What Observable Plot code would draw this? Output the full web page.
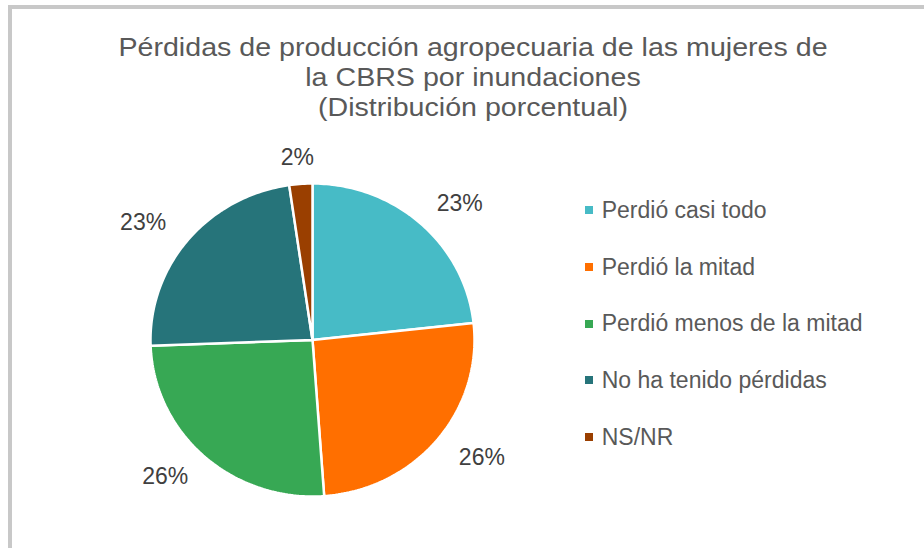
<!DOCTYPE html>
<html>
<head>
<meta charset="utf-8">
<script src="https://cdn.jsdelivr.net/npm/d3@7"></script>
<script src="https://cdn.jsdelivr.net/npm/@observablehq/plot@0.6"></script>
<style>
  html, body { margin: 0; padding: 0; background: #fff; overflow: hidden; }
  body { width: 924px; height: 548px; position: relative; font-family: "Liberation Sans", Arial, sans-serif; }
  #frame { position: absolute; left: 8px; top: 5px; width: 1000px; height: 700px;
           border-left: 4px solid #c8c8c8; border-top: 4px solid #c8c8c8; box-sizing: border-box; }
  #title { position: absolute; left: 100px; top: 32px; width: 746px; text-align: center;
           font-size: 26px; color: #595959; transform: scaleX(1.1); transform-origin: 50% 0; }
  #title div { height: 30px; line-height: 30px; white-space: nowrap; }
  #chart { position: absolute; left: 0; top: 140px; }
  #legend { position: absolute; left: 585px; top: 182px; }
  .item { height: 56.7px; display: flex; align-items: center; font-size: 23px; color: #595959; white-space: nowrap; }
  .sw { width: 8px; height: 8px; margin-right: 8.7px; flex: none; }
</style>
</head>
<body>
<div id="frame"></div>
<div id="title"></div>
<div id="chart"></div>
<div id="legend"></div>
<script>
const titleLines = ["Pérdidas de producción agropecuaria de las mujeres de", "la CBRS por inundaciones", "(Distribución porcentual)"];
const categories = ["Perdió casi todo", "Perdió la mitad", "Perdió menos de la mitad", "No ha tenido pérdidas", "NS/NR"];
const values = [23.3, 25.6, 25.6, 23.3, 2.3];
const valueLabels = ["23%", "26%", "26%", "23%", "2%"];
const colors = ["#47BBC6", "#FF6F00", "#37A854", "#26747A", "#9A3F00"];

const W = 570, H = 408;
const mL = 150, mR = 96, mT = 43, mB = 52;
const Rx = (W - mL - mR) / 2, Ry = (H - mT - mB) / 2;
const labelFont = 23;

const arcs = d3.pie().sort(null).value(d => d)(values);

// slice outlines in data space (unit circle, clockwise from 12 o'clock)
const slicePts = [];
arcs.forEach((a, i) => {
  slicePts.push({cat: categories[i], x: 0, y: 0});
  const n = Math.max(2, Math.ceil((a.endAngle - a.startAngle) / (Math.PI / 180)));
  for (let k = 0; k <= n; k++) {
    const t = a.startAngle + (a.endAngle - a.startAngle) * k / n;
    slicePts.push({cat: categories[i], x: Math.sin(t), y: Math.cos(t)});
  }
});

// label positions outside the pie
const ctx = document.createElement("canvas").getContext("2d");
ctx.font = `${labelFont}px "Liberation Sans", Arial`;
const labelData = arcs.map((a, i) => {
  const m = (a.startAngle + a.endAngle) / 2;
  const s = Math.sin(m), c = Math.cos(m);
  const hw = ctx.measureText(valueLabels[i]).width / 2;
  const hh = 8;
  const r0 = 1.12;
  return {
    text: valueLabels[i],
    x: r0 * s + 1.7 * hw / Rx * s,
    y: r0 * c + hh / Ry * c
  };
});

const plot = Plot.plot({
  width: W, height: H,
  marginLeft: mL, marginRight: mR, marginTop: mT, marginBottom: mB,
  x: {domain: [-1, 1], axis: null},
  y: {domain: [-1, 1], axis: null},
  color: {domain: categories, range: colors},
  style: {fontFamily: '"Liberation Sans", Arial, sans-serif', background: "transparent", overflow: "visible"},
  marks: [
    Plot.line(slicePts, {x: "x", y: "y", z: "cat", fill: "cat", stroke: "white", strokeWidth: 2.5, curve: "linear-closed", strokeLinejoin: "miter"}),
    Plot.text(labelData, {x: "x", y: "y", text: "text", fontSize: labelFont, fill: "#404040", textAnchor: "middle", lineAnchor: "middle"})
  ]
});
document.getElementById("chart").appendChild(plot);

const title = d3.select("#title");
titleLines.forEach(t => title.append("div").text(t));

const legend = d3.select("#legend");
categories.forEach((c, i) => {
  const it = legend.append("div").attr("class", "item");
  it.append("div").attr("class", "sw").style("background", colors[i]);
  it.append("span").text(c);
});
</script>
</body>
</html>
